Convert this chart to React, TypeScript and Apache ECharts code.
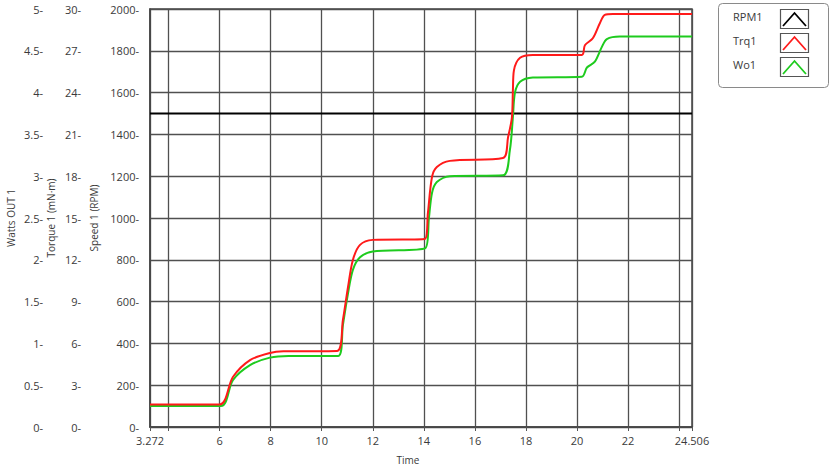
import React, { useEffect, useRef } from "react";
import * as echarts from "echarts";

const X_MIN = 3.272;
const X_MAX = 24.506;

const rpmTime = [3.272, 6, 10, 14, 18, 22, 24.506];
const rpmValues = [1500, 1500, 1500, 1500, 1500, 1500, 1500];

const trqTime = [3.272, 6.0, 6.52, 7.19, 7.97, 8.5, 10.6, 10.83, 11.03, 11.22, 11.5, 12.0, 14.04, 14.16, 14.32, 14.51, 15.02, 17.1, 17.3, 17.45, 17.49, 17.53, 17.77, 18.27, 20.19, 20.31, 20.62, 20.9, 21.09, 21.41, 24.506];
const trqValues = [1.62, 1.62, 3.59, 4.8, 5.31, 5.43, 5.46, 7.68, 10.05, 11.99, 13.07, 13.43, 13.5, 15.36, 17.94, 18.66, 19.1, 19.3, 20.8, 22.2, 24.2, 25.6, 26.5, 26.7, 26.7, 27.4, 27.9, 29.0, 29.57, 29.64, 29.64];

const woTime = [3.272, 6.05, 6.52, 7.19, 7.97, 8.7, 10.65, 10.83, 11.03, 11.22, 11.5, 12.0, 14.06, 14.2, 14.32, 14.51, 15.02, 17.1, 17.37, 17.49, 17.57, 17.77, 18.27, 20.19, 20.39, 20.7, 20.98, 21.17, 21.68, 24.506];
const woValues = [0.25, 0.25, 0.56, 0.74, 0.83, 0.85, 0.85, 1.22, 1.6, 1.88, 2.03, 2.1, 2.14, 2.5, 2.8, 2.93, 3.0, 3.01, 3.31, 3.71, 4.0, 4.13, 4.18, 4.19, 4.3, 4.37, 4.55, 4.64, 4.67, 4.67];

const legendNames = ["RPM1", "Trq1", "Wo1"];
const legendColors = ["#000000", "#ff1a1a", "#1ecb1e"];

const pairs = (t: number[], v: number[]) => t.map((x, i) => [x, v[i]]);

const FONT = "Open Sans";
const LABEL_COLOR = "#3a3a3a";

export default function App() {
  const ref = useRef<HTMLDivElement>(null);
  useEffect(() => {
    document.body.style.margin = "0";
    const chart = echarts.init(ref.current!, null, { renderer: "svg" });

    const legendGraphics: any[] = [
      {
        type: "rect",
        shape: { x: 718.5, y: 3.5, width: 110, height: 84, r: 4 },
        style: { fill: "#ffffff", stroke: "#8a8a8a", lineWidth: 1 },
      },
    ];
    const rowsY = [9, 33, 57];
    legendNames.forEach((name, i) => {
      const y = rowsY[i];
      legendGraphics.push({
        type: "text",
        left: 733,
        top: y + 2,
        style: { text: name, fill: LABEL_COLOR, font: `11px "${FONT}"` },
      });
      legendGraphics.push({
        type: "rect",
        shape: { x: 780.5, y: y + 0.5, width: 28, height: 19 },
        style: { fill: "#ffffff", stroke: "#555555", lineWidth: 1.2 },
      });
      legendGraphics.push({
        type: "polyline",
        shape: { points: [[783, y + 17], [794.5, y + 4], [806, y + 17]] },
        style: { stroke: legendColors[i], lineWidth: 1.8, fill: "none" },
      });
    });

    const yCommon = {
      type: "value" as const,
      position: "left" as const,
      nameLocation: "middle" as const,
      nameRotate: 90,
      nameMoveOverlap: false,
      nameTextStyle: { fontFamily: FONT, fontSize: 10, color: LABEL_COLOR },
      axisTick: { show: false },
      axisLabel: { fontFamily: FONT, fontSize: 11, color: LABEL_COLOR, margin: 7 },
    };

    chart.setOption({
      animation: false,
      backgroundColor: "#ffffff",
      grid: {
        left: 150,
        right: 139,
        top: 9,
        bottom: 46,
        show: true,
        borderColor: "#444444",
        borderWidth: 1.5,
        outerBoundsMode: "none",
      },
      xAxis: {
        type: "value",
        min: X_MIN,
        max: X_MAX,
        splitNumber: 10,
        name: "Time",
        nameLocation: "middle",
        nameGap: 28,
        nameMoveOverlap: false,
        nameTextStyle: { fontFamily: FONT, fontSize: 10, color: LABEL_COLOR, padding: [0, 26, 0, 0] },
        axisLine: { show: true, lineStyle: { color: "#444444", width: 1.5 } },
        axisTick: { show: true, inside: false, length: 4, lineStyle: { color: "#555555" } },
        axisLabel: {
          fontFamily: FONT,
          fontSize: 11,
          color: LABEL_COLOR,
          margin: 8,
          showMinLabel: true,
          showMaxLabel: true,
          formatter: (v: number) => (Math.abs(v - 4) < 1e-9 || Math.abs(v - 24) < 1e-9 ? "" : String(v)),
        },
        splitLine: { show: true, lineStyle: { color: "#505050", width: 1.3 } },
      },
      yAxis: [
        {
          ...yCommon,
          min: 0,
          max: 2000,
          interval: 200,
          name: "Speed 1 (RPM)",
          nameGap: 51,
          axisLine: { show: true, lineStyle: { color: "#444444", width: 1.5 } },
          axisLabel: { ...yCommon.axisLabel, margin: 11, formatter: (v: number) => `${v}-` },
          splitLine: { show: true, lineStyle: { color: "#505050", width: 1.3 } },
        },
        {
          ...yCommon,
          min: 0,
          max: 30,
          interval: 3,
          offset: 62,
          name: "Torque 1 (mN·m)",
          nameGap: 32,
          axisLine: { show: false },
          axisLabel: { ...yCommon.axisLabel, formatter: (v: number) => `${v}-` },
          splitLine: { show: false },
        },
        {
          ...yCommon,
          min: 0,
          max: 5,
          interval: 0.5,
          offset: 100,
          name: "Watts OUT 1",
          nameGap: 34,
          axisLine: { show: false },
          axisLabel: { ...yCommon.axisLabel, formatter: (v: number) => `${v}-` },
          splitLine: { show: false },
        },
      ],
      series: [
        {
          name: "RPM1",
          type: "line",
          yAxisIndex: 0,
          data: pairs(rpmTime, rpmValues),
          showSymbol: false,
          lineStyle: { color: legendColors[0], width: 2 },
          z: 3,
        },
        {
          name: "Wo1",
          type: "line",
          yAxisIndex: 2,
          data: pairs(woTime, woValues),
          showSymbol: false,
          smooth: 0.3,
          lineStyle: { color: legendColors[2], width: 2 },
          z: 4,
        },
        {
          name: "Trq1",
          type: "line",
          yAxisIndex: 1,
          data: pairs(trqTime, trqValues),
          showSymbol: false,
          smooth: 0.3,
          lineStyle: { color: legendColors[1], width: 2 },
          z: 5,
        },
      ],
      graphic: legendGraphics,
    });
    return () => chart.dispose();
  }, []);
  return <div ref={ref} style={{ width: 831, height: 473 }} />;
}
